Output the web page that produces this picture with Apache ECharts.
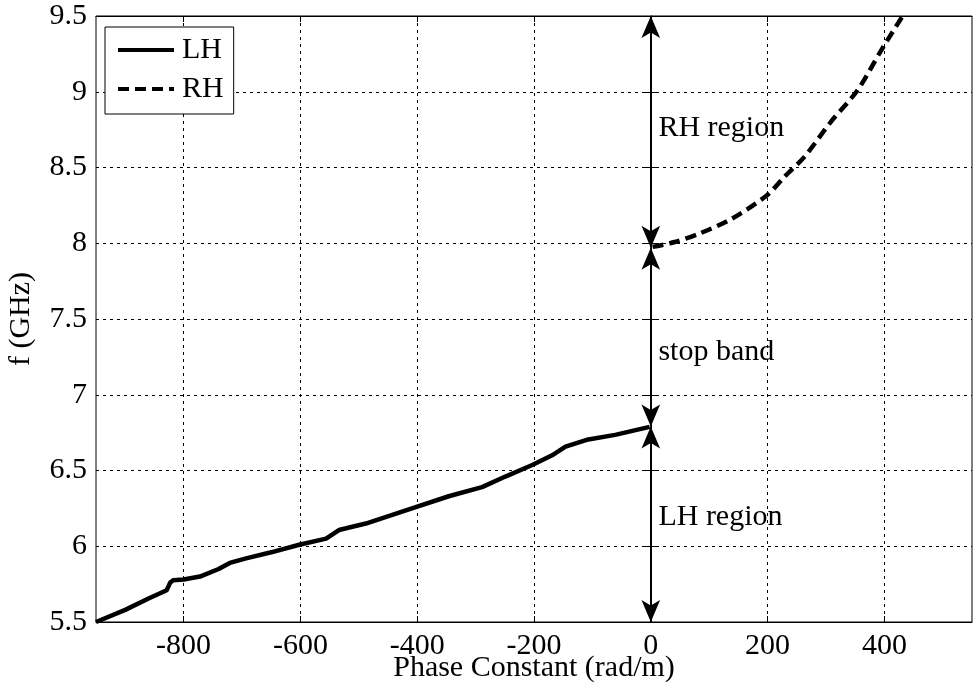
<!DOCTYPE html>
<html>
<head>
<meta charset="utf-8">
<script src="https://cdn.jsdelivr.net/npm/echarts@6/dist/echarts.min.js"></script>
<style>html,body{margin:0;padding:0;background:#fff}#c{width:973px;height:690px}</style>
</head>
<body>
<div id="c"></div>
<script>
// ---- data ----
const xTicks = [-800, -600, -400, -200, 0, 200, 400];
const yTicks = [5.5, 6, 6.5, 7, 7.5, 8, 8.5, 9, 9.5];
const lhBeta = [-950, -900, -860, -829, -826, -823, -818, -800, -772, -740, -721, -693, -650, -602, -556, -534, -488, -409, -346, -289, -249, -203, -169, -146, -107, -61, -2];
const lhFreq = [5.50, 5.58, 5.655, 5.71, 5.72, 5.76, 5.775, 5.78, 5.80, 5.85, 5.89, 5.92, 5.96, 6.01, 6.05, 6.107, 6.15, 6.25, 6.33, 6.39, 6.46, 6.536, 6.60, 6.657, 6.705, 6.735, 6.788];
const rhBeta = [3, 41, 83, 138, 199, 229, 263, 308, 354, 394, 428, 432];
const rhFreq = [7.976, 8.008, 8.064, 8.16, 8.317, 8.44, 8.57, 8.80, 9.01, 9.27, 9.48, 9.5];
const bandEdges = [5.5, 6.79, 7.97, 9.5];   // LH region / stop band / RH region boundaries at beta = 0
const regionNames = ['LH region', 'stop band', 'RH region'];
const regionLabelF = [6.19, 7.28, 8.76];
const regionLabelBeta = 13;

const font = 'Liberation Serif';
const fs = 30;
const chart = echarts.init(document.getElementById('c'));
const zip = (a, b) => a.map((v, i) => [v, b[i]]);

const arrowLines = [];
for (let i = 0; i < bandEdges.length - 1; i++) {
  arrowLines.push([{ coord: [0, bandEdges[i]] }, { coord: [0, bandEdges[i + 1]] }]);
}

chart.setOption({
  animation: false,
  backgroundColor: '#fff',
  grid: { left: 96, right: 1, top: 16, bottom: 68, show: true, borderColor: '#000', borderWidth: 1,
          containLabel: false, outerBoundsMode: 'none' },
  legend: {
    left: 105, top: 27, orient: 'vertical',
    data: ['LH', 'RH'],
    itemWidth: 56, itemHeight: 14, itemGap: 9,
    padding: [8, 10, 10, 11],
    borderColor: '#000', borderWidth: 1, backgroundColor: '#fff',
    itemStyle: { opacity: 0 },
    lineStyle: { width: 4 },
    textStyle: { fontFamily: font, fontSize: fs, color: '#000', padding: [0, 0, 0, 3] }
  },
  xAxis: [{
    type: 'value', min: -950, max: 550,
    axisLine: { show: true, lineStyle: { color: '#000', width: 1 } },
    axisTick: { show: true, inside: true, length: 6, lineStyle: { color: '#000' }, customValues: xTicks },
    axisLabel: { fontFamily: font, fontSize: fs, color: '#000', margin: 9, customValues: xTicks },
    splitLine: { show: true, lineStyle: { color: '#000', type: [3, 4], width: 1 } },
    name: 'Phase Constant (rad/m)', nameLocation: 'middle', nameGap: 31, nameMoveOverlap: false,
    nameTextStyle: { fontFamily: font, fontSize: fs, color: '#000' }
  }, {
    type: 'value', min: -950, max: 550, position: 'top',
    axisLine: { show: true, lineStyle: { color: '#000' } },
    axisTick: { show: true, inside: true, length: 6, lineStyle: { color: '#000' }, customValues: xTicks },
    axisLabel: { show: false }, splitLine: { show: false }
  }],
  yAxis: [{
    type: 'value', min: 5.5, max: 9.5, interval: 0.5,
    axisLine: { show: true, lineStyle: { color: '#000', width: 1 } },
    axisTick: { show: true, inside: true, length: 6, lineStyle: { color: '#000' } },
    axisLabel: { fontFamily: font, fontSize: fs, color: '#000', margin: 9,
      formatter: v => yTicks.includes(v) ? String(v) : '' },
    splitLine: { show: true, lineStyle: { color: '#000', type: [3, 4], width: 1 } },
    name: 'f (GHz)', nameLocation: 'middle', nameGap: 60, nameMoveOverlap: false,
    nameTextStyle: { fontFamily: font, fontSize: fs, color: '#000' }
  }, {
    type: 'value', min: 5.5, max: 9.5, interval: 0.5, position: 'right',
    axisLine: { show: true, lineStyle: { color: '#000' } },
    axisTick: { show: true, inside: true, length: 6, lineStyle: { color: '#000' } },
    axisLabel: { show: false }, splitLine: { show: false }
  }],
  series: [
    {
      name: 'LH', type: 'line', data: zip(lhBeta, lhFreq), symbol: 'none',
      lineStyle: { color: '#000', width: 4.5 }, itemStyle: { color: '#000' }, z: 5
    },
    {
      name: 'RH', type: 'line', data: zip(rhBeta, rhFreq), symbol: 'none', smooth: 0.3,
      lineStyle: { color: '#000', width: 4.5, type: [11, 6] }, itemStyle: { color: '#000' }, z: 5
    },
    {
      name: 'arrows', type: 'line', data: [], symbol: 'none',
      markLine: {
        silent: true, symbol: ['arrow', 'arrow'], symbolSize: [14, 22],
        lineStyle: { color: '#000', width: 2, type: 'solid' },
        itemStyle: { color: '#000' },
        label: { show: false },
        data: arrowLines
      }, z: 6
    },
    {
      name: 'labels', type: 'scatter', symbolSize: 0, silent: true,
      data: regionNames.map((n, i) => ({ value: [regionLabelBeta, regionLabelF[i]], name: n })),
      label: { show: true, position: 'right', distance: 0, formatter: p => p.name,
        fontFamily: font, fontSize: fs, color: '#000', opacity: 1, textBorderWidth: 0 }, z: 6
    }
  ]
});
</script>
</body>
</html>
